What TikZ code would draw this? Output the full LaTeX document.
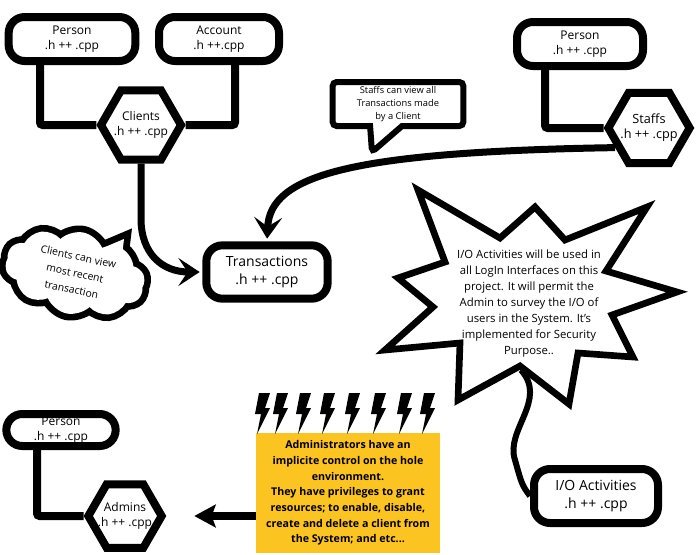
\documentclass[tikz,border=0pt]{standalone}
\usepackage{fontspec}
\setmainfont{Open Sans}
\usetikzlibrary{arrows.meta, calc, shapes.geometric, shapes.symbols, shapes.callouts}
\definecolor{cjaune}{RGB}{252,196,32}

\begin{document}
\begin{tikzpicture}[x=0.75pt, y=-0.75pt,
    fichier/.style={draw, line width=6pt, rounded corners=12pt, fill=white, align=center,
      inner sep=0pt, font=\fontsize{9}{11}\selectfont},
    hexa/.style={draw, line width=6pt, regular polygon, regular polygon sides=6, fill=white,
      align=center, inner sep=-6pt, minimum size=60pt, font=\fontsize{9}{11}\selectfont},
    lien/.style={line width=6pt, rounded corners=2pt},
    fleche/.style={line width=5.25pt, shorten >=2pt, -{Stealth[length=16pt, width=21pt, inset=7pt]}},
    bulle/.style={rectangle callout, draw, line width=4.5pt, fill=white, rounded corners=3pt,
      align=center, inner sep=0pt, callout pointer width=24pt, font=\fontsize{7}{10}\selectfont},
    nuage/.style={cloud, cloud puffs=10, cloud puff arc=110, cloud ignores aspect, rotate=-12,
      minimum width=106pt, minimum height=62pt, inner sep=-10pt, align=center,
      font=\fontsize{7.8}{12.5}\selectfont},
    etoile/.style={draw, line width=5pt, fill=white, line join=miter}]
  \useasboundingbox (0,0) rectangle (696,554);

  % --- clients ---
  \node[fichier, minimum width=95pt, minimum height=33pt] (personA) at (72,39) {Person\\.h ++ .cpp};
  \node[fichier, minimum width=90pt, minimum height=33pt] (compte) at (219,39) {Account\\.h ++.cpp};
  \node[hexa] (clients) at (141,125) {Clients\\.h ++ .cpp};
  \draw[lien] ($(personA.south)+(-32,0)$) |- (clients.west);
  \draw[lien] ($(compte.south)+(16,0)$) |- (clients.east);

  % --- transactions ---
  \node[fichier, font=\fontsize{10.5}{13}\selectfont, minimum width=91pt, minimum height=40pt]
    (trans) at (267,272) {Transactions\\.h ++ .cpp};
  \draw[fleche] (clients.south) -- ++(0,55) .. controls +(0,35) and +(-40,0) .. (trans.west);

  % --- staffs ---
  \node[fichier, minimum width=94.5pt, minimum height=33pt] (personB) at (580,44) {Person\\.h ++ .cpp};
  \node[hexa, minimum size=61pt, font=\fontsize{9.5}{11.5}\selectfont] (staffs) at (649,128) {Staffs\\.h ++ .cpp};
  \draw[lien] ($(personB.south)+(-35,0)$) |- (staffs.west);
  \draw[fleche] (staffs.210) .. controls (350,152) and (270,175) .. (trans.north);
  \node[bulle, callout absolute pointer={(372,152)}, minimum width=98pt, minimum height=33pt]
    (noteStaffs) at (398,104) {Staffs can view all\\Transactions made\\by a Client};

  % --- nuage clients ---
  \coordinate (posNuage) at (75,273);
  \draw[line width=10pt] (98,250) -- (124,239) -- (120,272) -- cycle;
  \node[nuage, draw, line width=10pt] at (posNuage) {};
  \fill[white] (98,250) -- (124,239) -- (120,272) -- cycle;
  \node[nuage, fill=white] (noteClients) at (posNuage) {Clients can view\\most recent\\transaction};

  % --- I/O ---
  \node[fichier, font=\fontsize{10.5}{13}\selectfont, minimum width=93pt, minimum height=40.5pt]
    (io) at (596,496) {I/O Activities\\.h ++ .cpp};
  \coordinate (piedEtoile) at (521,370);
  \draw[line width=4.5pt] (piedEtoile) .. controls (548,400) and (505,430) .. (515,460)
    .. controls (522,485) .. (io.west);
  \draw[etoile] (418,190) -- (500,238) -- (535,207) -- (565,240) -- (647,207) -- (606,271)
    -- (677,292) -- (612,315) -- (633,357) -- (578,353) -- (569,404) -- (520,366)
    -- (458,400) -- (460,343) -- (385,350) -- (433,307) -- (398,278) -- (445,262) -- cycle;
  \node[align=center, font=\fontsize{8.5}{12}\selectfont] (noteIO) at (529,304)
    {I/O Activities will be used in\\all LogIn Interfaces on this\\project. It will permit the\\Admin to survey the I/O of\\users in the System. It's\\implemented for Security\\Purpose..};

  % --- admins ---
  \node[fichier, minimum width=82pt, minimum height=24pt] (personC) at (61,430) {Person\\.h ++ .cpp};
  \node[hexa, minimum size=55pt, font=\fontsize{9}{11}\selectfont] (admins) at (125,516) {Admins\\.h ++ .cpp};
  \draw[lien] ($(personC.south)+(-24,0)$) |- (admins.west);
  \node[fill=cjaune, minimum width=138pt, minimum height=90pt, inner sep=0pt, align=center,
    font=\bfseries\fontsize{8}{11.8}\selectfont] (roleAdmins) at (348,493)
    {Administrators have an\\implicite control on the hole\\environment.\\They have privileges to grant\\resources; to enable, disable,\\create and delete a client from\\the System; and etc...};
  \draw[line width=6pt, shorten >=21pt, -{Stealth[length=16pt, width=17pt, inset=3pt]}]
    (roleAdmins.west |- admins.east) -- (admins.east);
  \foreach \bx in {262,280,303,327,352,378,404,427}
    \fill (\bx-3,393) -- (\bx+8,393) -- (\bx+3,408) -- (\bx+8,408) -- (\bx-5,434)
      -- (\bx-1,414) -- (\bx-7,414) -- cycle;
\end{tikzpicture}
\end{document}
